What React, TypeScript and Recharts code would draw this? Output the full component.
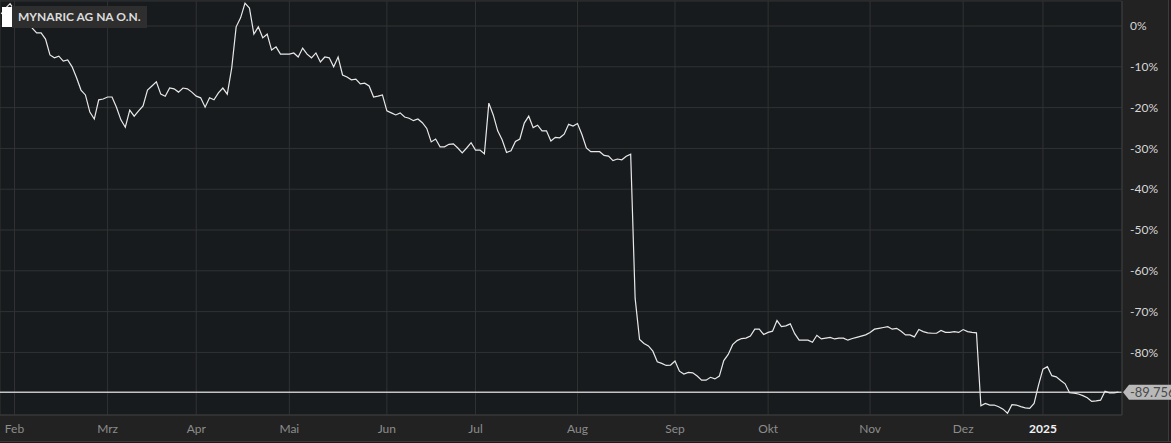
import React from 'react';
import { LineChart, Line, XAxis, YAxis, CartesianGrid, ReferenceLine } from 'recharts';

const seriesName = 'MYNARIC AG NA O.N.';

// one value per trading day, % change (Jan 29 2024 .. late Jan 2025)
const values: number[] = [
  3.0, 4.4, 5.5, 3.9, 2.9, 2.0, 1.0, -0.5, -1.7, -1.7,
  -3.2, -7.1, -7.8, -7.4, -8.6, -8.3, -10.0, -12.7, -15.7, -16.9,
  -21.1, -22.8, -18.1, -17.9, -17.4, -17.4, -19.9, -23.0, -24.8, -20.6,
  -22.1, -20.8, -19.6, -15.7, -14.7, -13.7, -16.7, -17.2, -15.2, -15.4,
  -16.2, -15.2, -15.4, -16.2, -17.2, -17.6, -19.9, -17.6, -18.1, -16.4,
  -15.2, -16.7, -10.3, -0.2, 2.0, 5.6, 4.4, -2.0, -0.2, -2.9,
  -2.0, -5.9, -5.1, -6.9, -6.9, -6.9, -6.6, -7.6, -5.4, -6.9,
  -7.8, -6.6, -8.8, -7.6, -7.8, -10.0, -7.6, -12.0, -12.5, -13.2,
  -13.0, -14.2, -14.0, -14.7, -17.4, -17.2, -16.9, -20.8, -21.3, -21.8,
  -21.3, -22.3, -22.6, -23.2, -22.8, -23.7, -25.1, -28.4, -27.7, -29.6,
  -29.6, -29.0, -28.9, -29.9, -31.1, -29.9, -28.6, -30.4, -30.4, -31.3,
  -18.9, -21.8, -25.7, -27.9, -31.0, -30.6, -28.3, -27.7, -23.8, -22.1,
  -24.9, -24.3, -25.7, -25.7, -28.2, -27.3, -27.4, -26.5, -24.1, -24.5,
  -23.9, -26.6, -29.9, -30.8, -30.8, -30.8, -31.7, -31.9, -33.0, -32.6,
  -32.8, -31.9, -31.4, -66.7, -76.8, -77.8, -78.4, -79.7, -82.3, -82.7,
  -83.2, -83.1, -82.1, -84.6, -85.3, -84.9, -85.0, -85.8, -86.8, -86.8,
  -86.1, -86.5, -85.8, -82.0, -80.5, -78.1, -77.1, -76.6, -76.5, -76.0,
  -74.3, -74.3, -75.6, -75.1, -74.8, -72.2, -73.7, -73.5, -73.0, -75.4,
  -77.0, -77.0, -77.0, -77.5, -75.8, -76.7, -76.5, -76.3, -76.7, -76.5,
  -76.5, -77.0, -76.6, -76.3, -76.0, -75.7, -75.1, -74.3, -74.1, -73.9,
  -73.7, -74.3, -74.1, -74.8, -75.7, -75.7, -76.2, -74.4, -74.9, -75.2,
  -75.3, -75.3, -74.6, -75.1, -75.1, -74.9, -75.1, -74.4, -74.9, -75.1,
  -75.2, -93.1, -92.5, -92.9, -92.9, -93.3, -93.9, -94.9, -92.8, -92.9,
  -93.3, -93.6, -93.7, -92.5, -88.0, -84.1, -83.5, -85.7, -86.0, -86.9,
  -87.7, -89.9, -90.0, -90.2, -90.6, -91.1, -92.0, -91.9, -91.7, -89.5,
  -89.9, -89.9, -89.756,
];

// trading-day index of the first session of each month
const monthTickIndex = [3, 24, 44, 65, 87, 107, 130, 152, 173, 196, 217, 235];
const monthTickLabels = ['Feb', 'Mrz', 'Apr', 'Mai', 'Jun', 'Jul', 'Aug', 'Sep', 'Okt', 'Nov', 'Dez', '2025'];
const yTicks = [0, -10, -20, -30, -40, -50, -60, -70, -80];
const lastValue = -89.756;
const lastValueLabel = '-89.756';

const data = values.map((v, i) => ({ i, v }));

const FONT = 'Lato, "Open Sans", sans-serif';

const XTick = (props: any) => {
  const { x, y, payload } = props;
  const idx = monthTickIndex.indexOf(payload.value);
  const label = idx >= 0 ? monthTickLabels[idx] : '';
  const isYear = /^\d{4}$/.test(label);
  return (
    <text
      x={x}
      y={y}
      dy={18}
      textAnchor="middle"
      fill={isYear ? '#f2f2f2' : '#8c8c8c'}
      fontSize={12}
      fontWeight={isYear ? 700 : 400}
      fontFamily={FONT}
    >
      {label}
    </text>
  );
};

const PriceTag = (props: any) => {
  const vb = props.viewBox || {};
  const x0 = (vb.x ?? 0) + (vb.width ?? 0) + 1;
  const y = vb.y ?? 0;
  const h = 7.5;
  const pts = `${x0},${y} ${x0 + 6},${y - h} ${x0 + 60},${y - h} ${x0 + 60},${y + h} ${x0 + 6},${y + h}`;
  return (
    <g>
      <polygon points={pts} fill="#b9b9b9" />
      <text x={x0 + 7} y={y + 4.5} fill="#4a4a4a" fontSize={13} fontFamily={FONT}>
        {lastValueLabel}
      </text>
    </g>
  );
};

export default function App() {
  return (
    <div
      style={{
        position: 'absolute',
        left: 0,
        top: 0,
        width: 1171,
        height: 443,
        background: '#222222',
        overflow: 'hidden',
      }}
    >
      <div style={{ position: 'absolute', left: 1168, top: 0, width: 1, height: 443, background: '#3c3c3c' }} />
      <div style={{ position: 'absolute', left: 1169, top: 0, width: 2, height: 443, background: '#1c1c1c' }} />
      <div style={{ position: 'absolute', left: 0, top: 441, width: 1171, height: 1, background: '#3a3a3a' }} />
      <div style={{ position: 'absolute', left: 0, top: 442, width: 1171, height: 1, background: '#1b1b1b' }} />
      <div style={{ position: 'absolute', left: 0, top: 0 }}>
        <LineChart width={1171} height={443} data={data} margin={{ top: 1, right: 3, bottom: 2, left: 0 }}>
          <CartesianGrid stroke="#303234" fill="#181b1d" fillOpacity={1} />
          <XAxis
            type="number"
            dataKey="i"
            domain={[-0.27, 252.83]}
            allowDataOverflow
            ticks={monthTickIndex}
            interval={0}
            height={26}
            tickSize={0}
            tickMargin={0}
            tickLine={false}
            axisLine={{ stroke: '#3a3a3a' }}
            tick={<XTick />}
          />
          <YAxis
            orientation="right"
            type="number"
            domain={[-95.34, 6.13]}
            allowDataOverflow
            ticks={yTicks}
            interval={0}
            width={46}
            tickSize={0}
            tickMargin={8}
            tickLine={false}
            axisLine={{ stroke: '#3a3a3a' }}
            tickFormatter={(v: number) => `${v}%`}
            tick={{ fill: '#d6d6d6', fontSize: 12, fontFamily: FONT }}
          />
          <ReferenceLine y={lastValue} stroke="#c4c4c4" strokeWidth={1.5} label={(p: any) => <PriceTag {...p} />} />
          <Line
            type="linear"
            dataKey="v"
            name={seriesName}
            stroke="#e8e8e8"
            strokeWidth={1.2}
            dot={false}
            activeDot={false}
            isAnimationActive={false}
          />
        </LineChart>
      </div>
      <div style={{ position: 'absolute', left: 2, top: 7, width: 10, height: 20, background: '#ffffff' }} />
      <div
        style={{
          position: 'absolute',
          left: 12,
          top: 6,
          height: 22,
          padding: '0 6px',
          background: '#2e2e2e',
          color: '#dcdcdc',
          fontFamily: FONT,
          fontWeight: 700,
          fontSize: 12,
          lineHeight: '22px',
          whiteSpace: 'nowrap',
        }}
      >
        {seriesName}
      </div>
    </div>
  );
}
